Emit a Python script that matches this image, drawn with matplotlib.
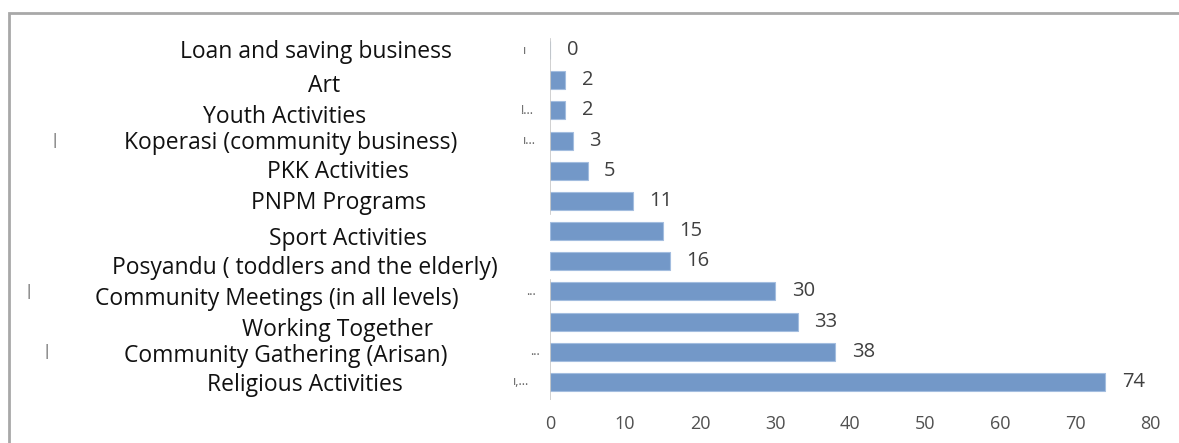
import matplotlib.pyplot as plt
import matplotlib.transforms as mtrans
from matplotlib.patches import Rectangle

# data, bottom row first
activities = ['Religious Activities', 'Community Gathering (Arisan)', 'Working Together',
              'Community Meetings (in all levels)', 'Posyandu ( toddlers and the elderly)',
              'Sport Activities', 'PNPM Programs', 'PKK Activities',
              'Koperasi (community business)', 'Youth Activities', 'Art',
              'Loan and saving business']
counts = [74, 38, 33, 30, 16, 15, 11, 5, 3, 2, 2, 0]
x_ticks = [0, 10, 20, 30, 40, 50, 60, 70, 80]

# label centres in pixels from top-left (the labels in the source are not aligned)
label_x = [305, 286, 338, 277, 305, 348, 339, 338, 291, 285, 324, 316]
label_y = [385, 356, 330, 299, 268, 239, 203, 172, 143, 117, 86, 52]

W, H = 1179, 443
plt.rcParams['font.family'] = ['Open Sans', 'DejaVu Sans']

fig = plt.figure(figsize=(W / 100, H / 100), dpi=100)
ax = fig.add_axes([550 / W, (H - 400) / H, 600 / W, 365 / H])

ypos = list(range(len(counts)))
ax.barh(ypos, counts, height=0.6, color='#7398c8', edgecolor='#a3bddf', linewidth=0.8)

for y, v in zip(ypos, counts):
    ax.annotate(str(v), (v, y), xytext=(12, 0), textcoords='offset points',
                va='center', ha='left', fontsize=14.5, color='#404040')

ax.set_xlim(0, 80)
ax.set_ylim(-0.6, 11.5)
ax.set_xticks(x_ticks)
ax.set_xticklabels([str(t) for t in x_ticks], fontsize=13, color='#505050')
ax.tick_params(axis='x', length=0, pad=11)
ax.set_yticks([])
for s in ['top', 'right', 'bottom', 'left']:
    ax.spines[s].set_visible(False)
# the category axis line is broken around the Sport / Posyandu rows in the source
ax.axvline(0, ymin=0.0, ymax=0.33, color='#c8c8c8', lw=1.2)
ax.axvline(0, ymin=0.51, ymax=0.99, color='#c8c8c8', lw=1.2)

# pixel coordinates from the top-left corner of the figure
pix = mtrans.Affine2D().scale(1, -1).translate(0, H)
pix_y = mtrans.blended_transform_factory(mtrans.IdentityTransform(), ax.transData)

# category names as free text on the left
for name, cx, cy in zip(activities, label_x, label_y):
    fig.text(cx, cy, name, ha='center', va='center', fontsize=16.5, color='#111111',
             transform=pix)

# truncated label fragments near the axis
frag = [(11, 525, '\u0131'), (9, 527, '!...'), (8, 529, '\u0131...'), (3, 531, '...'),
        (1, 535, '...'), (0, 521, '\u0131,...')]
for y, px, t in frag:
    ax.text(px, y, t, ha='center', va='center', fontsize=9, color='#606060',
            transform=pix_y, clip_on=False)
for y, px in [(8, 55), (3, 28), (1, 46)]:
    ax.text(px, y, '|', ha='center', va='center', fontsize=11, color='#505050',
            transform=pix_y, clip_on=False)

# outer frame
fig.patches.append(Rectangle((9 / W, -0.1), 1.1, (H - 13) / H + 0.1, transform=fig.transFigure,
                             fill=False, edgecolor='#a8a8a8', linewidth=2))

fig.savefig('out.png', dpi=100)
